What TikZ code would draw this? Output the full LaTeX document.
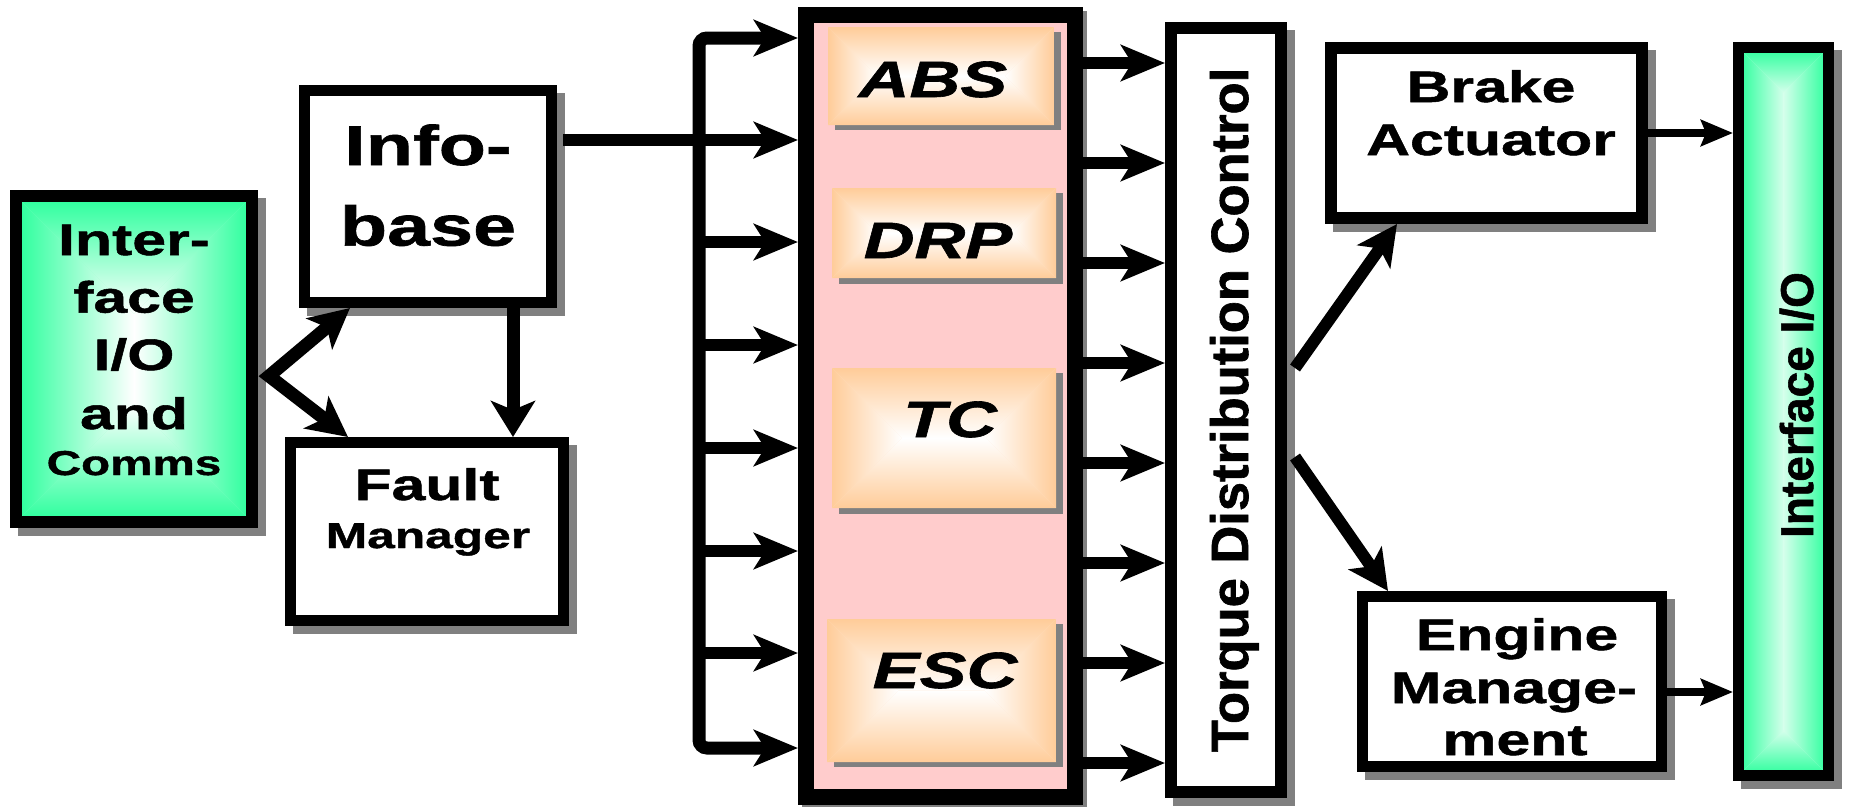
\documentclass[tikz,border=0pt]{standalone}
\usepackage{fontspec}
\usetikzlibrary{arrows.meta,calc,backgrounds}
\newfontfamily\wf{Liberation Sans}[FakeStretch=1.38,FakeBold=1.2]
\newfontfamily\nf{Liberation Sans}[FakeBold=1.2]
\definecolor{grn}{RGB}{40,255,155}
\definecolor{org}{RGB}{255,204,153}
\definecolor{pnk}{RGB}{255,204,204}
\definecolor{shg}{RGB}{128,128,128}
\newcommand\rgrad[6]{%
 \pgfmathsetmacro\rgw{(#3-#1)/2}%
 \pgfmathsetmacro\rgh{(#4-#2)/2}%
 \pgfmathsetmacro\rgr{min(\rgw,\rgh)}%
 \pgfmathsetmacro\rgax{#1+\rgr}%
 \pgfmathsetmacro\rgbx{#3-\rgr}%
 \pgfmathsetmacro\rgay{#2+\rgr}%
 \pgfmathsetmacro\rgby{#4-\rgr}%
 \fill[#5!50!#6] (#1,#2) rectangle (#3,#4);
 \shade[top color=#5, bottom color=#6] (#1,#2) -- (#3,#2) -- (\rgbx,\rgay) -- (\rgax,\rgay) -- cycle;
 \shade[bottom color=#5, top color=#6] (#1,#4) -- (#3,#4) -- (\rgbx,\rgby) -- (\rgax,\rgby) -- cycle;
 \shade[left color=#5, right color=#6] (#1,#2) -- (\rgax,\rgay) -- (\rgax,\rgby) -- (#1,#4) -- cycle;
 \shade[right color=#5, left color=#6] (#3,#2) -- (\rgbx,\rgay) -- (\rgbx,\rgby) -- (#3,#4) -- cycle;
}
\begin{document}
\begin{tikzpicture}[x=1pt,y=-1pt,
  bx/.style={draw=black, line width=#1, inner sep=0pt, outer sep=#1/2},
  wbox/.style={bx=#1, fill=white},
  obox/.style={inner sep=0pt, outer sep=0pt},
  tx/.style={inner sep=0pt, anchor=base},
  f44/.style={tx, font=\wf\bfseries\fontsize{44}{50}\selectfont},
  f56/.style={tx, font=\wf\bfseries\fontsize{56}{60}\selectfont},
  f34/.style={tx, font=\wf\bfseries\fontsize{34.5}{40}\selectfont},
  f36/.style={tx, font=\wf\bfseries\fontsize{36}{40}\selectfont},
  fit51/.style={tx, font=\wf\bfseries\itshape\fontsize{51}{56}\selectfont},
  rot/.style={inner sep=0pt, anchor=base, rotate=90},
  bigtip/.tip={Stealth[length=44pt,width=36pt,inset=11pt]},
  dtip/.tip={Stealth[length=40pt,width=40pt,inset=10pt]},
  vtip/.tip={Stealth[length=36pt,width=44pt,inset=9pt]},
  ttip/.tip={Stealth[length=32pt,width=26pt,inset=5pt]},
  arr/.style={line width=12pt, -{bigtip}},
  diag/.style={line width=13pt, line join=miter},
  thinarr/.style={line width=8pt, -{ttip}}
]
\useasboundingbox (0,0) rectangle (1849,806);

% ---------- left: Interface I/O and Comms
\rgrad{16}{196}{252}{522}{grn}{white}
\node[bx=12pt, minimum width=236pt, minimum height=326pt] (ifl) at (134,359) {};
% ---------- Infobase and Fault manager
\node[wbox=11pt, minimum width=247.5pt, minimum height=212pt] (info) at (427.75,196.5) {};
\node[wbox=11pt, minimum width=273pt, minimum height=178pt] (fault) at (427,531.5) {};
% ---------- pink function block
\node[bx=16pt, fill=pnk, minimum width=269pt, minimum height=782pt] (pink) at (940.5,406) {};
% orange boxes: shadows, shading, names
\fill[shg] (835,32) rectangle (1061,130);
\fill[shg] (839,193) rectangle (1063,284);
\fill[shg] (839,373) rectangle (1063,514);
\fill[shg] (834,624) rectangle (1063,767);
\rgrad{828}{27}{1054}{125}{org}{white}
\rgrad{832}{188}{1056}{278}{org}{white}
\rgrad{832}{368}{1056}{508}{org}{white}
\rgrad{827}{619}{1056}{762}{org}{white}
\node[obox, minimum width=226pt, minimum height=98pt] (abs) at (941,76) {};
\node[obox, minimum width=224pt, minimum height=90pt] (drp) at (944,233) {};
\node[obox, minimum width=224pt, minimum height=140pt] (tc) at (944,438) {};
\node[obox, minimum width=229pt, minimum height=143pt] (esc) at (941.5,690.5) {};
% ---------- Torque distribution control
\node[wbox=12pt, minimum width=110pt, minimum height=764pt] (torque) at (1226,410) {};
% ---------- actuators
\node[wbox=12pt, minimum width=311pt, minimum height=170pt] (brake) at (1486.5,133) {};
\node[wbox=11pt, minimum width=299pt, minimum height=170pt] (engine) at (1512,681.5) {};
% ---------- right Interface I/O
\rgrad{1738.5}{47.5}{1828.5}{775.5}{grn}{grn!20!white}
\node[bx=11pt, minimum width=90pt, minimum height=728pt] (io) at (1783.5,411.5) {};

% ---------- shadows
\begin{scope}[on background layer]
\foreach \n in {ifl,info,fault,torque,brake,engine,io}{
  \fill[shg] ($(\n.north west)+(8,8)$) rectangle ($(\n.south east)+(8,8)$);}
\fill[shg] ($(pink.north west)+(4,4)$) rectangle ($(pink.south east)+(4,4)$);
\end{scope}

% ---------- texts
\node[f44] (t1) at (134,255) {Inter-};
\node[f44] (t2) at (134,312.6) {face};
\node[f44] (t3) at (134,370) {I/O};
\node[f44] (t4) at (134,429) {and};
\node[f34] (t5) at (134,475) {Comms};
\node[f56] (t6) at (428,165) {Info-};
\node[f56] (t7) at (428,245.6) {base};
\node[f44] (t8) at (427,500) {Fault};
\node[f36] (t9) at (428,548) {Manager};
\node[fit51] (t10) at (933,97) {ABS};
\node[fit51] (t11) at (938,258) {DRP};
\node[fit51] (t12) at (950,437) {TC};
\node[fit51] (t13) at (945,688) {ESC};
\node[f44] (t14) at (1491,102) {Brake};
\node[f44] (t15) at (1491,155) {Actuator};
\node[f44] (t16) at (1517,650) {Engine};
\node[f44] (t17) at (1514,703) {Manage-};
\node[f44] (t18) at (1515,755) {ment};
\node[rot, font=\nf\bfseries\fontsize{52.5}{60}\selectfont] (t19) at (1248,410) {Torque Distribution Control};
\node[rot, font=\nf\bfseries\fontsize{46}{52}\selectfont] (t20) at (1813,405) {Interface I/O};

% ---------- connectors, left part
\coordinate (fork) at (269,376);
\draw[diag, {dtip}-{dtip}] ($(info.south west)+(51.5,0)$) -- (fork) -- ($(fault.north west)+(63,0)$);
\draw[line width=13pt, -{vtip}] ($(info.south east)+(-44,0)$) coordinate (d1) -- (d1 |- fault.north);
\coordinate (ib) at ($(info.east)+(6,-56.5)$);
\draw[arr] (ib) -- (pink.west |- ib);
% bus
\coordinate (bt) at (699,38);
\coordinate (bb) at (699,748);
\draw[line width=13pt, {bigtip}-{bigtip}, rounded corners=8pt] (pink.west |- bt) -- (bt) -- (bb) -- (pink.west |- bb);
\foreach \y [count=\i] in {242,345,448,551,653}{
  \coordinate (l\i) at (699,\y);
  \draw[arr] (l\i) -- (pink.west |- l\i);}
% pink -> torque
\foreach \y [count=\i] in {63,163,263,363,463,563,663,763}{
  \coordinate (r\i) at (1120,\y);
  \draw[arr] (pink.east |- r\i) -- (torque.west |- r\i);}
% torque -> actuators
\draw[line width=12pt, -{dtip}] ($(torque.east)+(8,-42)$) -- ($(brake.south west)+(72,0)$);
\draw[line width=12pt, -{dtip}] ($(torque.east)+(8,47)$) -- ($(engine.north west)+(31,0)$);
% actuators -> interface
\draw[thinarr] (brake.east) -- (io.west |- brake.east);
\coordinate (e1) at ($(engine.east)+(0,10.5)$);
\draw[thinarr] (e1) -- (io.west |- e1);
\end{tikzpicture}
\end{document}
